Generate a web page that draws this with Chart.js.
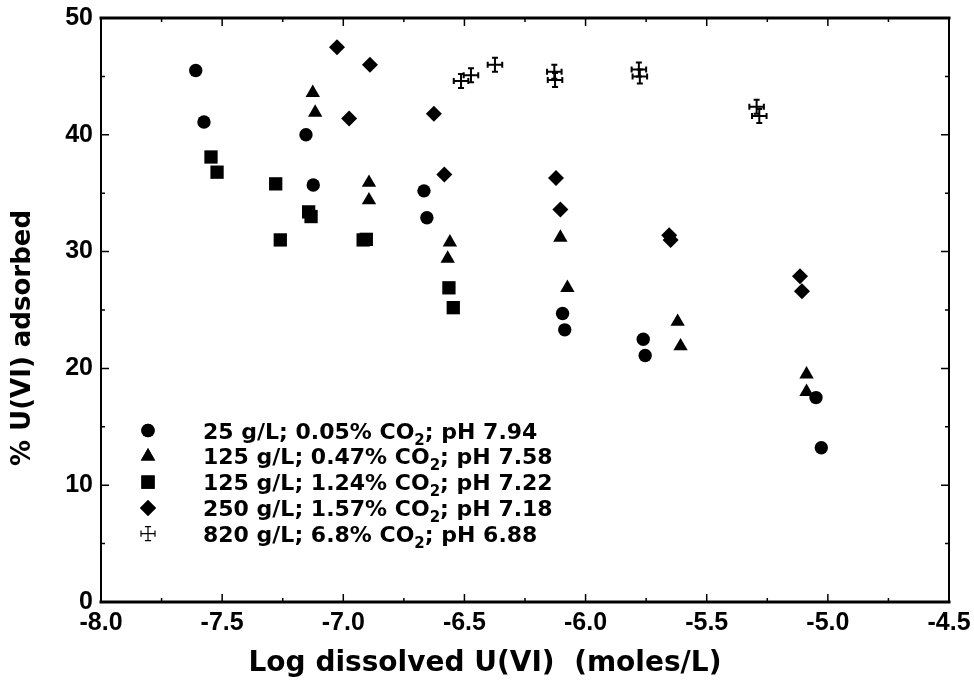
<!DOCTYPE html>
<html><head><meta charset="utf-8">
<script src="https://cdn.jsdelivr.net/npm/chart.js@4.4.1/dist/chart.umd.min.js"></script>
<style>html,body{margin:0;padding:0;background:#fff}#wrap{width:974px;height:694px;position:relative}</style>
</head><body><div id="wrap"><canvas id="c" width="974" height="694"></canvas></div>
<script>
// ---- data ----
const seriesNames = [
  '25 g/L; 0.05% CO₂; pH 7.94',
  '125 g/L; 0.47% CO₂; pH 7.58',
  '125 g/L; 1.24% CO₂; pH 7.22',
  '250 g/L; 1.57% CO₂; pH 7.18',
  '820 g/L; 6.8% CO₂; pH 6.88'
];
const circX = [-7.609,-7.575,-7.154,-7.124,-6.667,-6.655,-6.095,-6.086,-5.762,-5.754,-5.049,-5.027];
const circY = [45.5,41.1,40.0,35.7,35.2,32.9,24.7,23.3,22.5,21.1,17.5,13.2];
const triX = [-7.126,-7.116,-6.894,-6.894,-6.560,-6.569,-6.104,-6.075,-5.620,-5.608,-5.088,-5.088];
const triY = [43.6,41.9,35.9,34.4,30.8,29.4,31.2,26.9,24.0,21.9,19.5,18.0];
const sqX = [-7.546,-7.521,-7.279,-7.143,-7.133,-7.260,-6.918,-6.905,-6.564,-6.546];
const sqY = [38.1,36.8,35.8,33.4,33.0,31.0,31.0,31.05,26.9,25.2];
const diaX = [-7.026,-6.890,-6.976,-6.626,-6.583,-6.122,-6.104,-5.655,-5.649,-5.115,-5.107];
const diaY = [47.5,46.0,41.4,41.8,36.6,36.3,33.6,31.4,31.0,27.9,26.6];
const crossX = [-6.514,-6.473,-6.374,-6.129,-6.126,-5.780,-5.776,-5.294,-5.283];
const crossY = [44.6,45.1,46.0,45.4,44.7,45.6,45.0,42.4,41.6];
const crossXErr = [0.03,0.03,0.03,0.03,0.03,0.03,0.03,0.03,0.03];
const crossYErr = [0.6,0.6,0.6,0.6,0.6,0.6,0.6,0.6,0.6];
const xTickValues = [-8.0,-7.5,-7.0,-6.5,-6.0,-5.5,-5.0,-4.5];
const yTickValues = [0,10,20,30,40,50];
const xTitle = 'Log dissolved U(VI)  (moles/L)';
const yTitle = '% U(VI) adsorbed';

const FONT = '"DejaVu Sans", sans-serif';
const TICKFONT = '"Liberation Sans", Arial, sans-serif';
const pts = (xs, ys) => xs.map((x, i) => ({x, y: ys[i]}));
const styles = ['circle','triangle','rect','rectRot',false];
const radii = [6.7, 8.3, 9.4, 8, 0];

const datasets = [
  {label: seriesNames[0], data: pts(circX, circY)},
  {label: seriesNames[1], data: pts(triX, triY)},
  {label: seriesNames[2], data: pts(sqX, sqY)},
  {label: seriesNames[3], data: pts(diaX, diaY)},
  {label: seriesNames[4], data: pts(crossX, crossY)}
].map((d, i) => Object.assign(d, {
  pointStyle: styles[i], pointRadius: radii[i], pointHoverRadius: radii[i],
  backgroundColor: '#000', borderColor: '#000', borderWidth: 0, showLine: false
}));

function drawCross(ctx, px, py, x1, x2, y1, y2, cap, lw) {
  ctx.lineWidth = lw;
  ctx.beginPath();
  ctx.moveTo(x1, py); ctx.lineTo(x2, py);
  ctx.moveTo(px, y1); ctx.lineTo(px, y2);
  ctx.moveTo(x1, py - cap); ctx.lineTo(x1, py + cap);
  ctx.moveTo(x2, py - cap); ctx.lineTo(x2, py + cap);
  ctx.moveTo(px - cap, y1); ctx.lineTo(px + cap, y1);
  ctx.moveTo(px - cap, y2); ctx.lineTo(px + cap, y2);
  ctx.stroke();
}

const customPlugin = {
  id: 'custom',
  afterDatasetsDraw(chart) {
    const ctx = chart.ctx, xs = chart.scales.x, ys = chart.scales.y;
    ctx.save();
    ctx.strokeStyle = '#000';
    crossX.forEach((xv, i) => {
      const px = xs.getPixelForValue(xv), py = ys.getPixelForValue(crossY[i]);
      drawCross(ctx, px, py,
        xs.getPixelForValue(xv - crossXErr[i]), xs.getPixelForValue(xv + crossXErr[i]),
        ys.getPixelForValue(crossY[i] - crossYErr[i]), ys.getPixelForValue(crossY[i] + crossYErr[i]),
        3, 2);
    });
    ctx.restore();
  },
  afterDraw(chart) {
    const ctx = chart.ctx, xs = chart.scales.x, ys = chart.scales.y;
    const a = chart.chartArea;
    ctx.save();
    ctx.strokeStyle = '#000';
    // inward ticks on all four sides
    ctx.lineWidth = 1.5;
    ctx.beginPath();
    for (let k = 0; k <= 14; k++) {
      const v = -8 + k * 0.25;
      const p = xs.getPixelForValue(v);
      const len = k % 2 === 0 ? 8 : 4;
      ctx.moveTo(p, a.bottom); ctx.lineTo(p, a.bottom - len);
      ctx.moveTo(p, a.top); ctx.lineTo(p, a.top + len);
    }
    for (let k = 0; k <= 10; k++) {
      const v = k * 5;
      const p = ys.getPixelForValue(v);
      const len = k % 2 === 0 ? 8 : 4;
      ctx.moveTo(a.left, p); ctx.lineTo(a.left + len, p);
      ctx.moveTo(a.right, p); ctx.lineTo(a.right - len, p);
    }
    ctx.stroke();
    // frame
    ctx.lineCap = 'square';
    ctx.lineWidth = 2;
    ctx.beginPath();
    ctx.moveTo(a.left, a.top); ctx.lineTo(a.left, a.bottom);
    ctx.moveTo(a.right, a.top); ctx.lineTo(a.right, a.bottom);
    ctx.stroke();
    ctx.lineWidth = 3;
    ctx.beginPath();
    ctx.moveTo(a.left, a.top); ctx.lineTo(a.right, a.top);
    ctx.moveTo(a.left, a.bottom); ctx.lineTo(a.right, a.bottom);
    ctx.stroke();

    // axis titles
    ctx.fillStyle = '#000';
    ctx.textAlign = 'center';
    ctx.textBaseline = 'middle';
    ctx.font = 'bold 28px ' + FONT;
    ctx.fillText(xTitle, 485, 664);
    ctx.save();
    ctx.translate(23, 338);
    ctx.rotate(-Math.PI / 2);
    ctx.font = 'bold 26px ' + FONT;
    ctx.fillText(yTitle, 0, 0);
    ctx.restore();

    // legend
    const symX = 148, textX = 203, base0 = 438.5, step = 25.8;
    chart.data.datasets.forEach((ds, i) => {
      const base = base0 + i * step;
      const cy = base - 8;
      ctx.fillStyle = '#000';
      if (ds.pointStyle) {
        Chart.helpers.drawPoint(ctx, {pointStyle: ds.pointStyle, radius: ds.pointRadius, rotation: 0, borderWidth: 0}, symX, cy);
        ctx.fill();
      } else {
        drawCross(ctx, symX, cy, symX - 7, symX + 7, cy - 7, cy + 7, 2.5, 1.2);
      }
      const parts = ds.label.split('₂');
      ctx.textBaseline = 'alphabetic';
      ctx.textAlign = 'left';
      let x = textX;
      ctx.font = 'bold 22px ' + FONT;
      ctx.fillText(parts[0], x, base);
      x += ctx.measureText(parts[0]).width;
      ctx.font = 'bold 15px ' + FONT;
      ctx.fillText('2', x, base + 6);
      x += ctx.measureText('2').width;
      ctx.font = 'bold 22px ' + FONT;
      ctx.fillText(parts[1], x, base);
    });
    ctx.restore();
  }
};

new Chart(document.getElementById('c'), {
  type: 'scatter',
  data: {datasets},
  options: {
    responsive: false,
    animation: false,
    events: [],
    layout: {padding: {top: 18, right: 25, left: 0, bottom: 0}},
    plugins: {legend: {display: false}, tooltip: {enabled: false}},
    scales: {
      x: {
        type: 'linear', min: -8, max: -4.5,
        afterBuildTicks: s => { s.ticks = xTickValues.map(v => ({value: v})); },
        ticks: {color: '#000', font: {family: TICKFONT, size: 25, weight: 'bold'}, padding: 6,
                maxRotation: 0, autoSkip: false, callback: v => Number(v).toFixed(1)},
        grid: {drawOnChartArea: false, drawTicks: false, display: false},
        border: {display: false},
        title: {display: false},
        afterFit: s => { s.height = 92; s.paddingLeft = 0; s.paddingRight = 0; }
      },
      y: {
        type: 'linear', min: 0, max: 50,
        afterBuildTicks: s => { s.ticks = yTickValues.map(v => ({value: v})); },
        ticks: {color: '#000', font: {family: TICKFONT, size: 25, weight: 'bold'}, padding: 8,
                autoSkip: false, callback: v => String(v)},
        grid: {drawOnChartArea: false, drawTicks: false, display: false},
        border: {display: false},
        title: {display: false},
        afterFit: s => { s.width = 101; s.paddingTop = 0; s.paddingBottom = 0; }
      }
    }
  },
  plugins: [customPlugin]
});
</script>
</body></html>
